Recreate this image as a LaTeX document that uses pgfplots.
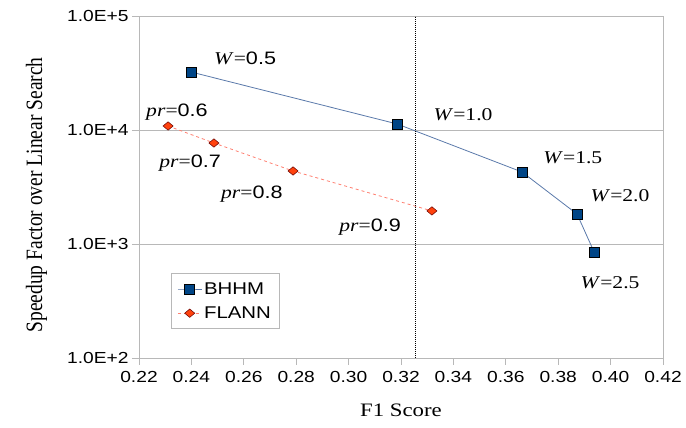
\documentclass[border=0pt]{standalone}
\usepackage{pgfplots}
\pgfplotsset{compat=1.18}
\usepackage{graphicx}
\usepackage{fontspec}
\setmainfont{Liberation Serif}[FakeStretch=1.2]
\newfontfamily\arial{Liberation Sans}[FakeStretch=1.2]
\newfontfamily\tnr{Liberation Serif}
\definecolor{bhline}{HTML}{5A79AA}
\definecolor{bhfill}{HTML}{004586}
\definecolor{flline}{HTML}{FF7F70}
\definecolor{flfill}{HTML}{FF420E}
\definecolor{gridc}{HTML}{B8B8B8}
\begin{document}
\begin{tikzpicture}
\path[use as bounding box] (-139pt,-70pt) rectangle (547pt,358pt);
\begin{axis}[
  at={(0,0)}, anchor=south west,
  scale only axis, width=524pt, height=342pt,
  xmin=0.22, xmax=0.42, ymode=log, ymin=100, ymax=100000,
  xtick={0.22,0.24,...,0.42},
  xticklabels={0.22,0.24,0.26,0.28,0.30,0.32,0.34,0.36,0.38,0.40,0.42},
  ytick={100,1000,10000,100000},
  yticklabels={1.0E+2,1.0E+3,1.0E+4,1.0E+5},
  minor ytick={}, yminorticks=false,
  ymajorgrids, major grid style={gridc, line width=0.8pt},
  axis line style={gridc, line width=0.8pt},
  tick style={gridc, line width=0.8pt},
  tick align=outside, major tick length=7pt,
  xtick pos=bottom, ytick pos=left,
  ticklabel style={font=\arial\fontsize{16}{18}\selectfont, text=black},
  xticklabel style={yshift=-3pt},
  xlabel={F1 Score}, ylabel={\tnr\fontsize{19.5}{21}\selectfont\scalebox{1}[1.2]{Speedup Factor over Linear Search}},
  xlabel style={font=\fontsize{19}{21}\selectfont, yshift=-14pt},
  ylabel style={yshift=13pt, xshift=-8pt},
  legend style={at={(0.061,0.2485)}, anchor=north west, draw=gridc, line width=0.8pt,
    font=\arial\fontsize{17}{19}\selectfont, row sep=7pt, inner xsep=6pt, inner ysep=7pt},
  legend image code/.code={\draw[mark repeat=2,mark phase=2,#1] plot coordinates {(0cm,0cm)(0.42cm,0cm)(0.84cm,0cm)};},
  legend cell align=left,
  clip=false,
]
\addplot[bhline, line width=0.8pt, mark=square*, mark size=5pt,
  mark options={fill=bhfill, draw=black, line width=0.6pt, solid}]
  coordinates {(0.2398,32300)(0.3185,11300)(0.3662,4280)(0.3872,1830)(0.3937,851)};
\addlegendentry{BHHM}
\addplot[flline, dashed, line width=0.8pt, mark=diamond*, mark size=4.2pt,
  mark options={fill=flfill, draw=black!60!red, line width=0.5pt, solid, xscale=1.6}]
  coordinates {(0.2311,10840)(0.2486,7690)(0.2788,4370)(0.3318,1950)};
\addlegendentry{FLANN}
\addplot[black, densely dotted, line width=1pt, forget plot]
  coordinates {(0.3257,100)(0.3257,100000)};
\tikzset{lab/.style={font=\fontsize{18}{20}\selectfont, inner sep=0pt}}
\node[lab] at (axis cs:0.2605,42800) {\textit{W}=\arial 0.5};
\node[lab] at (axis cs:0.3437,13540) {\textit{W}=1.0};
\node[lab] at (axis cs:0.3856,5680) {\textit{W}=1.5};
\node[lab] at (axis cs:0.4036,2640) {\textit{W}=2.0};
\node[lab] at (axis cs:0.3998,455) {\textit{W}=2.5};
\node[lab] at (axis cs:0.2345,14390) {\textit{pr}=\arial 0.6};
\node[lab] at (axis cs:0.2395,5140) {\textit{pr}=\arial 0.7};
\node[lab] at (axis cs:0.2631,2740) {\textit{pr}=\arial 0.8};
\node[lab] at (axis cs:0.3082,1410) {\textit{pr}=\arial 0.9};
\end{axis}
\end{tikzpicture}
\end{document}
